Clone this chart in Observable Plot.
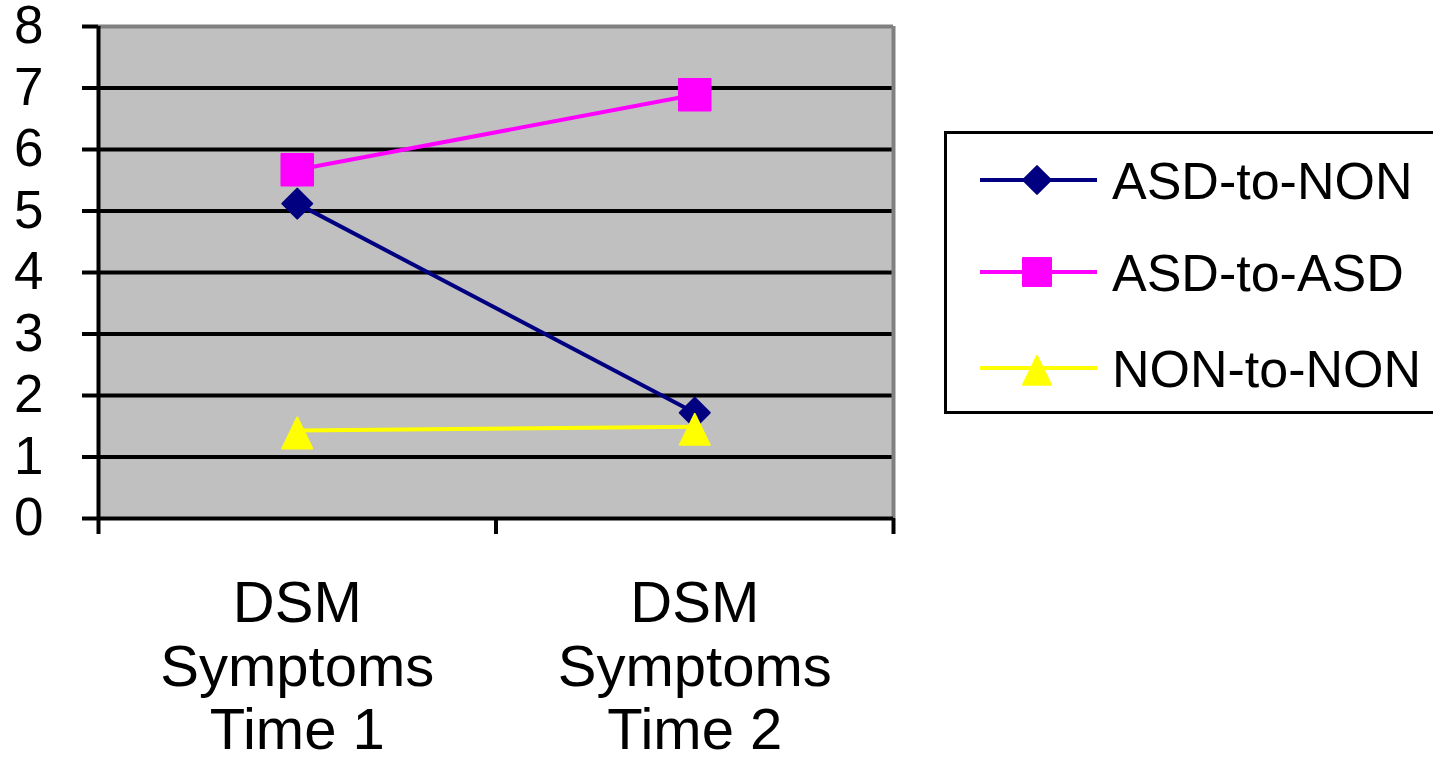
<!DOCTYPE html>
<html><head><meta charset="utf-8">
<script src="https://cdn.jsdelivr.net/npm/d3@7"></script>
<script src="https://cdn.jsdelivr.net/npm/@observablehq/plot@0.6"></script>
<style>
body{margin:0;background:#fff;}
#wrap{position:relative;width:1433px;height:759px;overflow:hidden;font-family:"Liberation Sans",Arial,sans-serif;}
#legend{position:absolute;left:944px;top:131px;width:520px;height:283px;box-sizing:border-box;border:3px solid #000;background:#fff;}
#legend svg{display:block;}
</style></head><body><div id="wrap"><div id="chart"></div><div id="legend"></div></div>
<script>
// ---- data ----
const categories = ["DSM\nSymptoms\nTime 1", "DSM\nSymptoms\nTime 2"];
const seriesNames = ["ASD-to-NON", "ASD-to-ASD", "NON-to-NON"];
const asdToNon = [5.12, 1.72];
const asdToAsd = [5.67, 6.89];
const nonToNon = [1.43, 1.49];
const yTicks = [0, 1, 2, 3, 4, 5, 6, 7, 8];
const gridTicks = [1, 2, 3, 4, 5, 6, 7];

// ---- build table ----
const seriesValues = [asdToNon, asdToAsd, nonToNon];
const rows = seriesNames.flatMap((s, si) =>
  seriesValues[si].map((v, i) => ({series: s, pos: i + 0.5, value: v})));

// ---- styles ----
const triangleSym = {
  draw(ctx, size) {
    const r = Math.sqrt(size / Math.PI);
    ctx.moveTo(0, -0.87 * r);
    ctx.lineTo(r, 1.2 * r);
    ctx.lineTo(-r, 1.2 * r);
    ctx.closePath();
  }
};
const styles = {
  "ASD-to-NON": {color: "#000080", symbol: d3.symbolDiamond2, r: 13.5, lr: 12.5},
  "ASD-to-ASD": {color: "#ff00ff", symbol: d3.symbolSquare, r: 17.8, lr: 15.8},
  "NON-to-NON": {color: "#ffff00", symbol: triangleSym, r: 15, lr: 14}
};

const lineMarks = seriesNames.map(s =>
  Plot.line(rows.filter(d => d.series === s), {x: "pos", y: "value", stroke: styles[s].color, strokeWidth: 4}));
const dotMarks = seriesNames.map(s =>
  Plot.dot(rows.filter(d => d.series === s), {x: "pos", y: "value", symbol: styles[s].symbol, r: styles[s].r,
    fill: styles[s].color, stroke: styles[s].color, strokeWidth: 2, strokeLinejoin: "round"}));

const chart = Plot.plot({
  width: 1433, height: 759,
  marginLeft: 98, marginRight: 540, marginTop: 26, marginBottom: 241,
  style: {fontFamily: "'Liberation Sans', Arial, sans-serif", background: "transparent", color: "#000", overflow: "visible"},
  x: {type: "linear", domain: [0, categories.length]},
  y: {domain: [0, 8]},
  marks: [
    Plot.frame({fill: "#c0c0c0", stroke: null}),
    Plot.ruleY(gridTicks, {stroke: "#000", strokeWidth: 4}),
    Plot.ruleY([8], {stroke: "#808080", strokeWidth: 4}),
    Plot.ruleX([categories.length], {stroke: "#808080", strokeWidth: 4}),
    Plot.ruleY([0], {stroke: "#000", strokeWidth: 4}),
    Plot.ruleX([0], {stroke: "#000", strokeWidth: 4}),
    Plot.axisY({ticks: yTicks, tickSize: 16, tickPadding: 39, fontSize: 53, strokeWidth: 4, label: null, tickFormat: d => String(d)}),
    Plot.axisX({ticks: d3.range(categories.length + 1), tickSize: 16, strokeWidth: 4, tickFormat: () => "", label: null}),
    Plot.axisX({ticks: categories.map((c, i) => i + 0.5), tickSize: 0, tickPadding: 58, fontSize: 58, lineHeight: 1.1,
      tickFormat: d => categories[Math.floor(d)], label: null}),
    ...lineMarks,
    ...dotMarks
  ]
});
document.getElementById("chart").appendChild(chart);

// ---- legend ----
const lsvg = d3.select("#legend").append("svg").attr("width", 514).attr("height", 277);
const rowY = [46, 138, 234];
seriesNames.forEach((s, i) => {
  const g = lsvg.append("g").attr("transform", `translate(0,${rowY[i]})`);
  g.append("line").attr("x1", 33).attr("x2", 150).attr("y1", 0).attr("y2", 0)
    .attr("stroke", styles[s].color).attr("stroke-width", 4);
  g.append("path").attr("transform", "translate(90,0)")
    .attr("d", d3.symbol(styles[s].symbol, Math.PI * styles[s].lr * styles[s].lr)())
    .attr("fill", styles[s].color).attr("stroke", styles[s].color).attr("stroke-width", 2).attr("stroke-linejoin", "round");
  g.append("text").attr("x", 165).attr("y", 0).attr("dy", "0.36em")
    .attr("font-family", "'Liberation Sans', Arial, sans-serif").attr("font-size", 52).attr("fill", "#000")
    .text(s);
});
</script>
</body></html>
